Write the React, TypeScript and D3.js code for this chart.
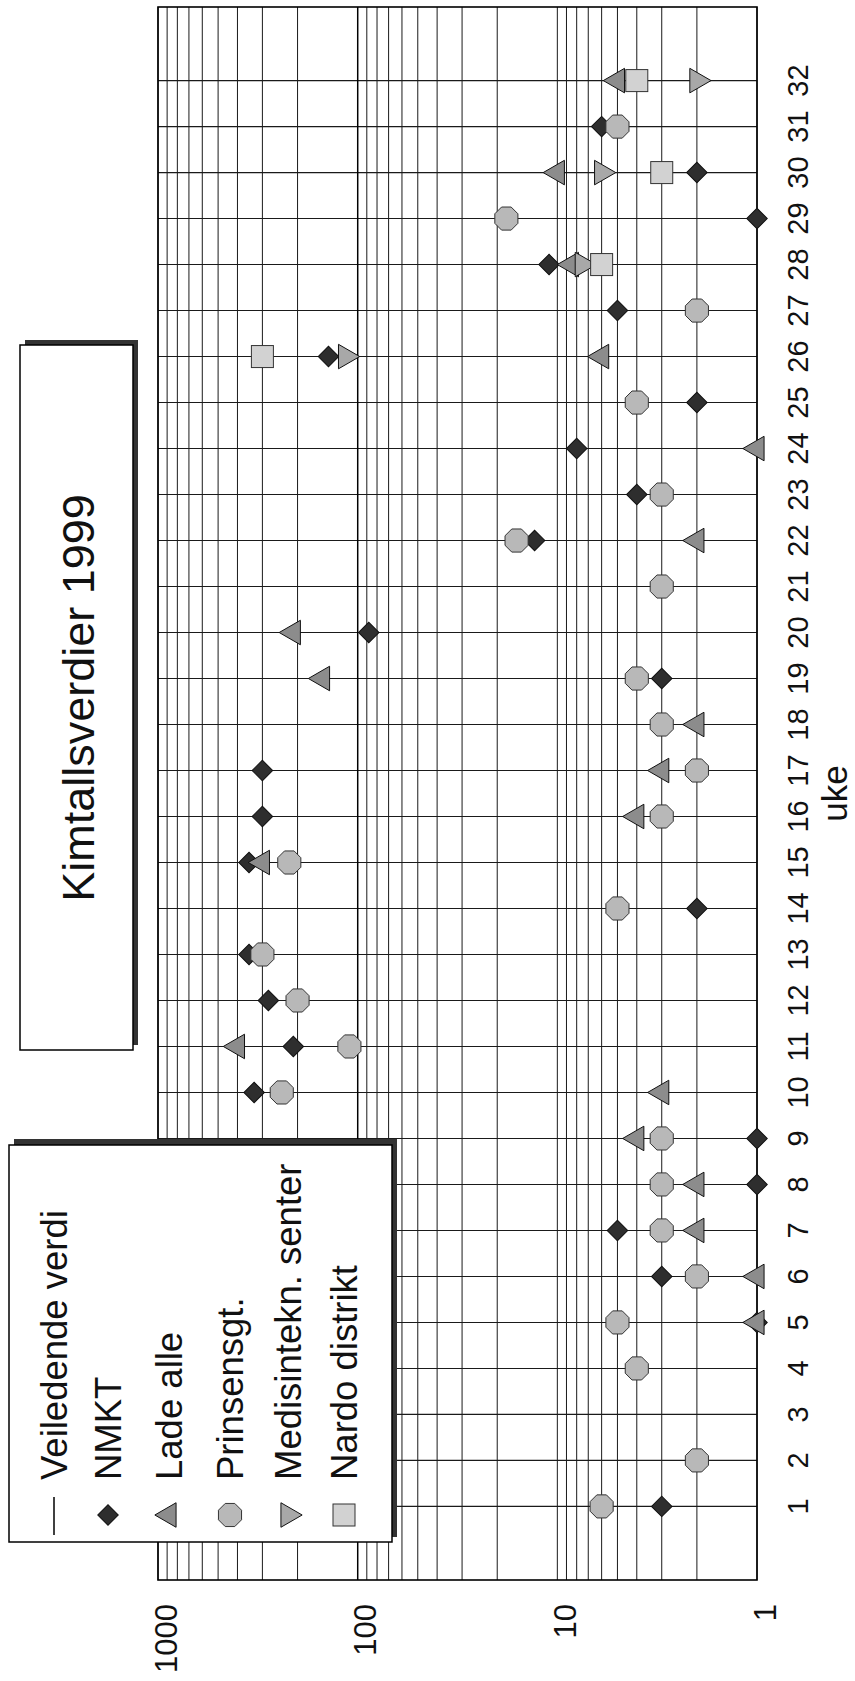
import React from "react";
import * as d3 from "d3";

// Weekly colony counts (kimtall) 1999, log scale. [week, value]
const nmkt: [number, number][] = [
  [1, 3], [5, 1], [6, 3], [7, 5], [8, 1], [9, 1], [10, 330], [11, 210],
  [12, 280], [13, 350], [14, 2], [15, 350], [16, 300], [17, 300], [19, 3],
  [20, 88], [22, 13], [23, 4], [24, 8], [25, 2], [26, 140], [27, 5],
  [28, 11], [29, 1], [30, 2], [31, 6],
];
const ladeAlle: [number, number][] = [
  [5, 1], [6, 1], [7, 2], [8, 2], [9, 4], [10, 3], [11, 400], [15, 300],
  [16, 4], [17, 3], [18, 2], [19, 150], [20, 210], [22, 2], [24, 1],
  [26, 6], [28, 8.5], [30, 10], [32, 5],
];
const prinsensgt: [number, number][] = [
  [1, 6], [2, 2], [4, 4], [5, 5], [6, 2], [7, 3], [8, 3], [9, 3],
  [10, 240], [11, 110], [12, 200], [13, 300], [14, 5], [15, 220], [16, 3],
  [17, 2], [18, 3], [19, 4], [21, 3], [22, 16], [23, 3], [25, 4], [27, 2],
  [29, 18], [31, 5],
];
const medisintekn: [number, number][] = [
  [26, 115], [28, 7.5], [30, 6], [32, 2],
];
const nardo: [number, number][] = [
  [26, 300], [28, 6], [30, 3], [32, 4],
];
const veiledendeVerdi = 100;

const weekTicks = [
  1, 2, 3, 4, 5, 6, 7, 8, 9, 10, 11, 12, 13, 14, 15, 16,
  17, 18, 19, 20, 21, 22, 23, 24, 25, 26, 27, 28, 29, 30, 31, 32,
];
const valueTicks = [1, 10, 100, 1000];

const title = "Kimtallsverdier 1999";
const legendLabels = [
  "Veiledende verdi",
  "NMKT",
  "Lade alle",
  "Prinsensgt.",
  "Medisintekn. senter",
  "Nardo distrikt",
];

const W = 855;
const H = 1681;
const font = "'Liberation Sans', Arial, sans-serif";

// the chart is printed turned a quarter turn: values run right->left, weeks bottom->top
const x = d3.scaleLog().domain([1, 1000]).range([757, 158]);
const y = d3.scaleLinear().domain([-0.6, 33.6]).range([1580, 7]);

const octagon = (r: number) => {
  const pts = d3.range(8).map((i) => {
    const a = Math.PI / 8 + (i * Math.PI) / 4;
    return [r * Math.cos(a), r * Math.sin(a)] as [number, number];
  });
  return d3.line()(pts) + "Z";
};

type Kind = "diamond" | "triUp" | "oct" | "triDown" | "square";

const Marker: React.FC<{ kind: Kind; cx: number; cy: number }> = ({ kind, cx, cy }) => {
  const stroke = "#111";
  if (kind === "diamond")
    return (
      <path
        d={d3.symbol(d3.symbolSquare, 210)()!}
        transform={`translate(${cx},${cy}) rotate(45)`}
        fill="#2e2e2e"
        stroke={stroke}
      />
    );
  if (kind === "triUp")
    return (
      <path
        d={d3.symbol(d3.symbolTriangle, 260)()!}
        transform={`translate(${cx},${cy}) rotate(-90)`}
        fill="#8c8c8c"
        stroke={stroke}
      />
    );
  if (kind === "triDown")
    return (
      <path
        d={d3.symbol(d3.symbolTriangle, 260)()!}
        transform={`translate(${cx},${cy}) rotate(90)`}
        fill="#a8a8a8"
        stroke={stroke}
      />
    );
  if (kind === "oct")
    return (
      <path d={octagon(12.5)} transform={`translate(${cx},${cy})`} fill="#b8b8b8" stroke="#333" />
    );
  return (
    <rect x={cx - 11} y={cy - 11} width={22} height={22} fill="#d2d2d2" stroke="#333" />
  );
};

// drawn in series order, so later series sit on top
const series: { data: [number, number][]; kind: Kind }[] = [
  { data: nmkt, kind: "diamond" },
  { data: ladeAlle, kind: "triUp" },
  { data: prinsensgt, kind: "oct" },
  { data: medisintekn, kind: "triDown" },
  { data: nardo, kind: "square" },
];

const legendKinds: (Kind | "line")[] = ["line", "diamond", "triUp", "oct", "triDown", "square"];
const legendCols = [54, 108, 169, 230, 288, 344];

export default function App() {
  const [x0, x1] = x.range();
  const [y0, y1] = y.range();
  const gridValues = x.ticks();
  return (
    <div>
      <style>{"body{margin:0;background:#fff}"}</style>
      <svg width={W} height={H} style={{ display: "block", background: "#fff" }}>
        {/* grid */}
        {gridValues.map((v) => (
          <line key={"v" + v} x1={x(v)} x2={x(v)} y1={y1} y2={y0} stroke="#1a1a1a" strokeWidth={1} />
        ))}
        {weekTicks.map((w) => (
          <line key={"w" + w} x1={x1} x2={x0} y1={y(w)} y2={y(w)} stroke="#1a1a1a" strokeWidth={1.1} />
        ))}
        <rect x={x1} y={y1} width={x0 - x1} height={y0 - y1} fill="none" stroke="#000" strokeWidth={1.6} />

        {/* Veiledende verdi */}
        <line
          x1={x(veiledendeVerdi)}
          x2={x(veiledendeVerdi)}
          y1={y1}
          y2={y0}
          stroke="#000"
          strokeWidth={1.4}
        />

        {/* markers */}
        {series.map((s) =>
          s.data.map(([w, v]) => (
            <Marker key={s.kind + w} kind={s.kind} cx={x(v)} cy={y(w)} />
          ))
        )}

        {/* value axis labels */}
        {valueTicks.map((v) => (
          <text
            key={"t" + v}
            transform={`translate(${x(v) + 8},1604) rotate(-90)`}
            textAnchor="end"
            dominantBaseline="central"
            fontFamily={font}
            fontSize={31}
            fill="#111"
          >
            {v}
          </text>
        ))}

        {/* week labels */}
        {weekTicks.map((w) => (
          <text
            key={"l" + w}
            transform={`translate(798,${y(w)}) rotate(-90)`}
            textAnchor="middle"
            dominantBaseline="central"
            fontFamily={font}
            fontSize={29}
            fill="#111"
          >
            {w}
          </text>
        ))}
        <text
          transform={`translate(834,${y(16.5)}) rotate(-90)`}
          textAnchor="middle"
          dominantBaseline="central"
          fontFamily={font}
          fontSize={35}
          fill="#111"
        >
          uke
        </text>

        {/* title box */}
        <rect x={25} y={340} width={113} height={705} fill="#333" />
        <rect x={20} y={345} width={113} height={705} fill="#fff" stroke="#000" strokeWidth={1.5} />
        <text
          transform={`translate(78,698) rotate(-90)`}
          textAnchor="middle"
          dominantBaseline="central"
          fontFamily={font}
          fontSize={45}
          fill="#111"
        >
          {title}
        </text>

        {/* legend */}
        <rect x={14} y={1139} width={383} height={398} fill="#333" />
        <rect x={9} y={1145} width={383} height={397} fill="#fff" stroke="#000" strokeWidth={1.5} />
        {legendLabels.map((label, i) => {
          const cx = legendCols[i];
          const k = legendKinds[i];
          return (
            <g key={label}>
              {k === "line" ? (
                <line x1={cx} x2={cx} y1={1497} y2={1535} stroke="#000" strokeWidth={1.5} />
              ) : (
                <Marker kind={k} cx={cx} cy={1515} />
              )}
              <text
                transform={`translate(${cx},1480) rotate(-90)`}
                textAnchor="start"
                dominantBaseline="central"
                fontFamily={font}
                fontSize={36.5}
                fill="#111"
              >
                {label}
              </text>
            </g>
          );
        })}
      </svg>
    </div>
  );
}
